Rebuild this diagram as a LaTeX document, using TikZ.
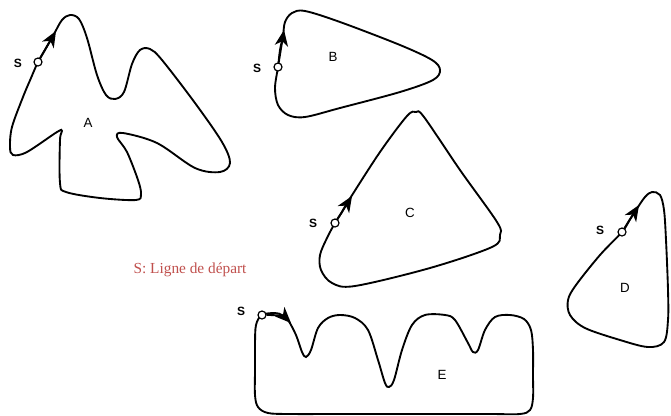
\documentclass[tikz,border=0pt]{standalone}
\usepackage{fontspec}
\setmainfont{Liberation Serif}
\setsansfont{Liberation Sans}
\usepackage{tikz}
\usetikzlibrary{arrows.meta}

\definecolor{departred}{HTML}{C0504D}

\begin{document}
\begin{tikzpicture}[
    x=0.75pt, y=-0.75pt,
    track/.style={draw, black, line width=1.4pt, smooth cycle, tension=0.55},
    start/.style={circle, draw, fill=white, line width=0.9pt, inner sep=0pt,
                  minimum size=6pt},
    sname/.style={font=\sffamily\bfseries\fontsize{9}{9}\selectfont},
    tname/.style={font=\sffamily\fontsize{10}{10}\selectfont},
    dir/.style={-{Stealth[length=12pt, width=10pt, inset=3.5pt]}, line width=1.4pt},
  ]
  \useasboundingbox (0,0) rectangle (671,415);

  % --- A ---
  \draw[track] plot coordinates {(38,62) (46,48) (54,34) (62,20) (70,15) (79,19)
    (87,38) (97,75) (106,95) (115,99) (124,92) (132,64) (140,50) (150,49)
    (162,60) (195,103) (222,142) (230,163) (220,172) (195,168) (157,143)
    (123,133) (117,137) (127,152) (138,180) (141,194) (136,200) (100,198)
    (66,192) (60,183) (60,140) (62,131) (57,132) (27,152) (13,155) (10,147)
    (12,127) (23,97) (31,78)};
  \coordinate (tA) at (56,31);
  \node[start] (sA) at (38,62) {};
  \draw[dir] (sA) -- (tA);
  \node[sname] (lsA) at (18,63) {S};
  \node[tname] (nA) at (88,123) {A};

  % --- B ---
  \draw[track] plot coordinates {(278,67) (280,50) (283,36) (285,22) (292,13)
    (305,11) (340,22) (400,45) (432,60) (440,70) (433,80) (400,92) (340,108)
    (305,117) (288,115) (278,105) (275,88)};
  \coordinate (tB) at (284,30);
  \node[start] (sB) at (278,67) {};
  \draw[dir] (sB) -- (tB);
  \node[sname] (lsB) at (257,68) {S};
  \node[tname] (nB) at (333,57) {B};

  % --- C ---
  \draw[track] plot coordinates {(335,223) (342,212) (349,200) (380,152)
    (407,116) (416,112) (424,117) (460,170) (497,222) (500,235) (492,247)
    (430,268) (355,286) (332,283) (321,270) (320,255) (327,238)};
  \coordinate (tC) at (352,196);
  \node[start] (sC) at (335,223) {};
  \draw[dir] (sC) -- (tC);
  \node[sname] (lsC) at (313,223) {S};
  \node[tname] (nC) at (410,213) {C};

  % --- D ---
  \draw[track] plot coordinates {(622,232) (629,221) (636,210) (645,197)
    (652,192) (660,195) (664,210) (666,240) (668,290) (668,320) (664,342)
    (648,347) (620,340) (585,328) (570,315) (568,300) (576,285) (600,255)};
  \coordinate (tD) at (639,205);
  \node[start] (sD) at (622,232) {};
  \draw[dir] (sD) -- (tD);
  \node[sname] (lsD) at (600,230) {S};
  \node[tname] (nD) at (625,288) {D};

  % --- E ---
  \draw[track] plot coordinates {(262,315) (275,313) (282,315) (288,320)
    (296,335) (302,352) (306,357) (311,350) (318,328) (328,318) (340,315)
    (355,318) (368,330) (378,360) (385,383) (389,387) (394,380) (402,350)
    (412,325) (425,315) (445,315) (455,320) (468,343) (473,352) (478,350)
    (485,330) (495,317) (510,315) (524,319) (531,330) (533,350) (533,375)
    (533,398) (530,410) (520,414) (490,414) (440,414) (390,414) (340,414)
    (290,414) (268,413) (258,407) (255,395) (255,370) (255,345) (256,325)};
  \coordinate (tE) at (291,323);
  \node[start] (sE) at (262,315) {};
  \draw[dir] (sE) to[out=0, in=135] (tE);
  \node[sname] (lsE) at (241,311) {S};
  \node[tname] (nE) at (442,375) {E};

  % --- legend ---
  \node[text=departred, font=\fontsize{11.5}{12}\selectfont] (legend)
    at (190,270) {S: Ligne de départ};
\end{tikzpicture}
\end{document}
